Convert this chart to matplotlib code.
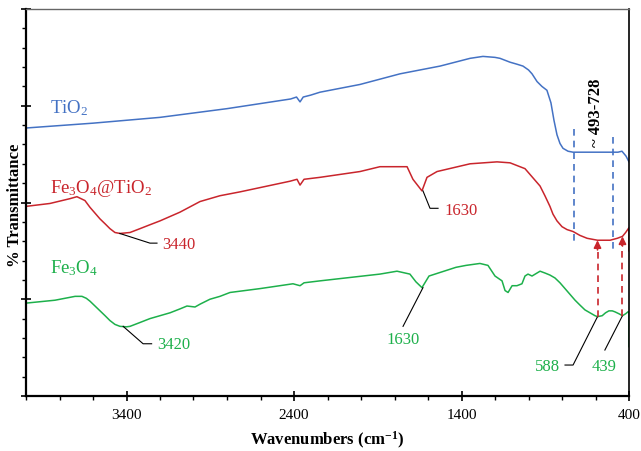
import matplotlib
matplotlib.use("Agg")
import matplotlib.pyplot as plt
from matplotlib.ticker import MultipleLocator, FixedLocator

plt.rcParams["font.family"] = ["Liberation Serif", "DejaVu Serif"]
plt.rcParams["mathtext.fontset"] = "custom"
plt.rcParams["mathtext.rm"] = "Liberation Serif"
plt.rcParams["mathtext.bf"] = "Liberation Serif:bold"
plt.rcParams["mathtext.it"] = "Liberation Serif:italic"

# FTIR spectra (wavenumber in cm-1, offset transmittance in arbitrary units)
wn_tio2 = [4000, 3600, 3200, 2800, 2420, 2385, 2364, 2345, 2300, 2245, 2006, 1767,
           1528, 1349, 1272, 1200, 1170, 1110, 1070, 1033, 1000, 979, 949, 920, 890,
           866, 848, 830, 812, 794, 764, 734, 600, 466, 442, 418, 400]
t_tio2 = [2.77, 2.82, 2.88, 2.97, 3.07, 3.09, 3.04, 3.09, 3.11, 3.14, 3.22, 3.33,
          3.41, 3.49, 3.51, 3.50, 3.49, 3.45, 3.43, 3.41, 3.37, 3.33, 3.25, 3.20, 3.16,
          3.03, 2.85, 2.70, 2.61, 2.56, 2.53, 2.52, 2.52, 2.52, 2.53, 2.48, 2.42]

wn_core = [4000, 3857, 3737, 3696, 3648, 3618, 3588, 3558, 3528, 3499, 3469, 3439,
           3379, 3319, 3260, 3200, 3081, 2961, 2842, 2722, 2424, 2382, 2364, 2340,
           2245, 2006, 1887, 1725, 1690, 1636, 1606, 1546, 1349, 1188, 1110, 1051,
           1021, 991, 961, 931, 902, 872, 854, 830, 800, 770, 734, 693, 650, 588, 513,
           470, 439, 420, 400, 400]
t_core = [1.96, 1.99, 2.04, 2.06, 2.02, 1.95, 1.89, 1.83, 1.78, 1.73, 1.69, 1.68,
          1.69, 1.73, 1.77, 1.81, 1.90, 2.01, 2.07, 2.11, 2.22, 2.24, 2.18, 2.24,
          2.26, 2.32, 2.37, 2.37, 2.24, 2.12, 2.26, 2.32, 2.40, 2.42, 2.41, 2.37,
          2.35, 2.29, 2.23, 2.17, 2.07, 1.96, 1.88, 1.81, 1.75, 1.72, 1.70, 1.66, 1.63,
          1.61, 1.61, 1.63, 1.65, 1.69, 1.74, 1.50]

wn_fe3o4 = [4000, 3827, 3707, 3666, 3640, 3618, 3588, 3558, 3528, 3499, 3469, 3439,
            3400, 3379, 3319, 3260, 3200, 3140, 3081, 3039, 2991, 2960, 2902, 2842,
            2782, 2603, 2406, 2364, 2340, 2245, 1887, 1785, 1708, 1672, 1636, 1594,
            1433, 1373, 1290, 1242, 1200, 1158, 1140, 1122, 1098, 1069, 1039, 1021,
            1003, 979, 931, 900, 872, 842, 812, 782, 752, 722, 693, 663, 633, 603, 588,
            560, 540, 520, 500, 484, 460, 439, 420, 406, 400, 400]
t_fe3o4 = [0.96, 0.99, 1.03, 1.03, 1.01, 0.98, 0.93, 0.88, 0.83, 0.78, 0.74, 0.72,
           0.715, 0.72, 0.76, 0.80, 0.83, 0.86, 0.90, 0.93, 0.92, 0.95, 1.00, 1.03,
           1.07, 1.11, 1.16, 1.14, 1.17, 1.19, 1.26, 1.29, 1.26, 1.18, 1.12, 1.24,
           1.33, 1.35, 1.37, 1.35, 1.24, 1.19, 1.09, 1.07, 1.14, 1.14, 1.16, 1.24,
           1.26, 1.24, 1.29, 1.27, 1.25, 1.22, 1.17, 1.11, 1.05, 0.99, 0.94, 0.89, 0.86,
           0.83, 0.82, 0.83, 0.86, 0.88, 0.88, 0.87, 0.85, 0.83, 0.85, 0.87, 0.87, 0.51]

# Marked bands
tio2_band = [493, 728]
fe_bands = [588, 439]
core_oh, fe_oh, water_band = 3440, 3420, 1630

x_major = [3400, 2400, 1400, 400]

BLUE = "#4472C4"
RED = "#C9252C"
GREEN = "#1DB04B"

fig = plt.figure(figsize=(6.41, 4.52), dpi=100)
ax = fig.add_axes([26 / 641, 55 / 452, 603 / 641, 387 / 452])

ax.plot(wn_tio2, t_tio2, color=BLUE, lw=1.1)
ax.plot(wn_core, t_core, color=RED, lw=1.1)
ax.plot(wn_fe3o4, t_fe3o4, color=GREEN, lw=1.1)

ax.set_xlim(4000, 400)
ax.set_ylim(0, 4)

# Axes frame
for side in ("left", "bottom"):
    ax.spines[side].set_linewidth(1.6)
    ax.spines[side].set_color("black")
ax.spines["right"].set_linewidth(1.2)
ax.spines["right"].set_color("black")
ax.spines["top"].set_linewidth(1.0)
ax.spines["top"].set_color("#666666")

ax.xaxis.set_major_locator(FixedLocator(x_major))
ax.xaxis.set_minor_locator(MultipleLocator(200))
ax.yaxis.set_major_locator(MultipleLocator(1))
ax.yaxis.set_minor_locator(MultipleLocator(0.2))
ax.tick_params(axis="x", which="major", direction="inout", length=7, width=1.2,
               labelsize=11, pad=5)
ax.tick_params(axis="x", which="minor", direction="out", length=3.2, width=1.0)
ax.tick_params(axis="y", which="major", direction="inout", length=7, width=1.2,
               labelleft=False)
ax.tick_params(axis="y", which="minor", direction="out", length=3.2, width=1.0)

fig.text(327.5 / 641, 1 - 440 / 452, r"Wavenumbers (cm$^{\mathbf{-1}}$)",
         ha="center", va="center", fontsize=12, fontweight="bold")
fig.text(15 / 641, 1 - 205 / 452, "% Transmittance", rotation=90,
         ha="center", va="center", fontsize=12, fontweight="bold")

# Sample names
ax.text(3857, 2.99, r"TiO$_2$", color=BLUE, fontsize=13.5, ha="left", va="center")
ax.text(3857, 2.16, r"Fe$_3$O$_4$@TiO$_2$", color=RED, fontsize=13.5,
        ha="left", va="center")
ax.text(3857, 1.33, r"Fe$_3$O$_4$", color=GREEN, fontsize=13.5, ha="left", va="center")

# Peak labels with leader lines
lead = dict(color="black", lw=0.8)
ax.plot([core_oh, 3260, 3218], [1.68, 1.58, 1.58], **lead)
ax.text(3185, 1.575, str(core_oh), color=RED, fontsize=12, ha="left", va="center")

ax.plot([fe_oh, 3301, 3250], [0.72, 0.54, 0.54], **lead)
ax.text(3215, 0.535, str(fe_oh), color=GREEN, fontsize=12, ha="left", va="center")

ax.plot([water_band, 1588, 1540], [2.12, 1.94, 1.94], **lead)
ax.text(1500, 1.925, str(water_band), color=RED, fontsize=12, ha="left", va="center")

ax.plot([water_band, 1749], [1.12, 0.72], **lead)
ax.text(1749, 0.585, str(water_band), color=GREEN, fontsize=12, ha="center",
        va="center")

ax.plot([fe_bands[0], 734, 782], [0.82, 0.32, 0.32], **lead)
ax.text(812, 0.31, str(fe_bands[0]), color=GREEN, fontsize=12, ha="right",
        va="center")

ax.plot([fe_bands[1], 544], [0.83, 0.475], **lead)
ax.text(550, 0.31, str(fe_bands[1]), color=GREEN, fontsize=12, ha="center",
        va="center")

# TiO2 band range
ax.plot([tio2_band[1]] * 2, [2.76, 1.59], color=BLUE, lw=1.2, ls=(0, (4, 3)))
ax.plot([tio2_band[0]] * 2, [2.68, 1.50], color=BLUE, lw=1.2, ls=(0, (4, 3)))
ax.text(597, 2.94, "~ %d-%d" % (tio2_band[0], tio2_band[1]), rotation=90,
        fontsize=12, fontweight="bold", ha="center", va="center")

# Fe-O bands carried over into the core-shell spectrum
for wn, y0, y1 in [(fe_bands[0], 0.82, 1.61), (fe_bands[1], 0.83, 1.65)]:
    ax.plot([wn, wn], [y0, y1 - 0.06], color=RED, lw=1.2, ls=(0, (4, 3)))
    ax.annotate("", xy=(wn, y1), xytext=(wn, y1 - 0.1),
                arrowprops=dict(arrowstyle="-|>", color=RED, lw=1.2,
                                mutation_scale=11, shrinkA=0, shrinkB=0))

fig.savefig("out.png", dpi=100)
